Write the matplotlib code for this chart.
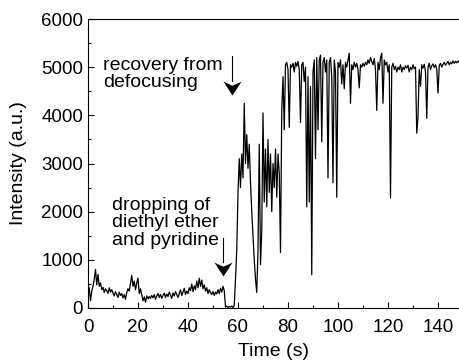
import numpy as np
import matplotlib
matplotlib.use("Agg")
import matplotlib.pyplot as plt
from matplotlib.path import Path
from matplotlib.ticker import MultipleLocator

plt.rcParams['font.family'] = ['Liberation Sans', 'DejaVu Sans']

dt = 0.5
intensity = [
    # 0 - 10 s
    380, 420, 150, 350, 450, 600, 800, 480, 700, 450, 520, 380, 430, 320, 400, 360, 300, 420, 330, 380,
    # 10 - 20 s
    310, 250, 340, 280, 220, 330, 260, 300, 210, 280, 180, 320, 400, 350, 520, 680, 450, 560, 380, 520,
    # 20 - 30 s
    620, 300, 400, 280, 150, 230, 120, 250, 190, 240, 200, 260, 210, 280, 180, 250, 300, 220, 280, 200,
    # 30 - 40 s
    260, 310, 220, 290, 240, 330, 270, 200, 310, 250, 340, 280, 220, 300, 380, 260, 330, 410, 280, 350,
    # 40 - 50 s
    300, 420, 360, 500, 340, 460, 380, 560, 420, 620, 450, 580, 400, 480, 350, 420, 300, 380, 320, 280,
    # 50 - 60 s
    340, 260, 330, 290, 380, 300, 410, 330, 450, 360, 20, 40, 10, 30, 20, 40, 10, 50, 600, 1200,
    # 60 - 70 s
    2400, 3100, 2500, 3200, 2700, 4250, 3000, 3600, 2900, 3400, 2600, 2000, 1500, 1000, 600, 320, 1200, 3400, 900, 1600,
    # 70 - 80 s
    4050, 2200, 3300, 2100, 3500, 2400, 3200, 2000, 3000, 2500, 3300, 2300, 3200, 2800, 1150, 4100, 4800, 3700, 5050, 5100,
    # 80 - 90 s
    4950, 3750, 5050, 5000, 5080, 4900, 5100, 5020, 5120, 4950, 3850, 5050, 5100, 4700, 5000, 2100, 4800, 2200, 4600, 690,
    # 90 - 100 s
    4900, 5150, 3100, 5200, 3700, 5150, 5250, 3450, 5100, 5200, 4900, 5150, 2700, 5100, 5200, 4800, 2600, 5150, 4900, 2300,
    # 100 - 110 s
    5100, 5000, 5150, 4650, 5050, 4550, 5100, 5000, 5150, 5290, 4250, 5050, 4950, 5100, 5000, 5080, 4950, 4570, 5050, 5000,
    # 110 - 120 s
    5080, 5020, 5100, 5050, 5150, 5080, 5200, 5120, 5050, 5180, 4950, 4100, 5100, 4950, 5200, 5290, 4250, 5150, 5050, 5100,
    # 120 - 130 s
    4900, 5050, 2280, 5000, 5080, 4950, 5020, 4900, 5000, 4950, 5050, 4900, 5000, 4950, 5030, 4980, 5040, 4900, 5000, 4950,
    # 130 - 140 s
    5050, 4970, 5000, 3630, 3970, 4950, 4600, 5050, 4980, 5060, 4900, 3940, 5000, 5080, 4950, 5030, 5070, 4990, 5050, 4960,
    # 140 - 150 s
    4460, 5040, 5080, 5000, 5060, 5100, 5040, 5080, 5120, 5050, 5100, 5070, 5130, 5080, 5120, 5090, 5130, 5100, 5120, 5100,
    5110,
]
time = np.arange(len(intensity)) * dt

xticks = [0, 20, 40, 60, 80, 100, 120, 140]
yticks = [0, 1000, 2000, 3000, 4000, 5000, 6000]

label_top = "recovery from\ndefocusing"
label_bottom = "dropping of\ndiethyl ether\nand pyridine"

fig = plt.figure(figsize=(4.59, 3.62), dpi=100)
ax = fig.add_axes([88 / 459, 54 / 362, 371 / 459, 289 / 362])
ax.plot(time, intensity, color='black', lw=0.9)

ax.set_xlim(0, 148.4)
ax.set_ylim(0, 6000)
ax.set_xticks(xticks)
ax.set_yticks(yticks)
ax.xaxis.set_minor_locator(MultipleLocator(10))
ax.yaxis.set_minor_locator(MultipleLocator(500))
ax.tick_params(which='both', direction='in', labelsize=13.5, width=0.8)
ax.tick_params(which='major', length=4)
ax.tick_params(which='minor', length=2.5)
ax.tick_params(axis='x', pad=8)
ax.spines['right'].set_visible(False)
for s in ['left', 'top', 'bottom']:
    ax.spines[s].set_linewidth(0.8)

ax.set_xlabel('Time (s)', fontsize=14, labelpad=5)
ax.set_ylabel('Intensity (a.u.)', fontsize=14, labelpad=10)

# annotations
ax.text(6, 4860, label_top, fontsize=14, va='center', ha='left', linespacing=1.05)
ax.text(9.5, 1765, label_bottom, fontsize=14, va='center', ha='left', linespacing=1.05)

# stealth arrow head (tip at origin, pointing down)
head = Path([(0, 0), (-0.65, 1), (0, 0.7), (0.65, 1), (0, 0)],
            [Path.MOVETO, Path.LINETO, Path.LINETO, Path.LINETO, Path.CLOSEPOLY])
arrows = [(57.7, 5230, 4420), (54.1, 1450, 660)]
for x, y0, y1 in arrows:
    ax.plot([x, x], [y0, y1 + 300], color='black', lw=0.8)
    ax.plot([x], [y1], marker=head, markersize=20, color='black', markeredgewidth=0)

fig.savefig('out.png', dpi=100)
